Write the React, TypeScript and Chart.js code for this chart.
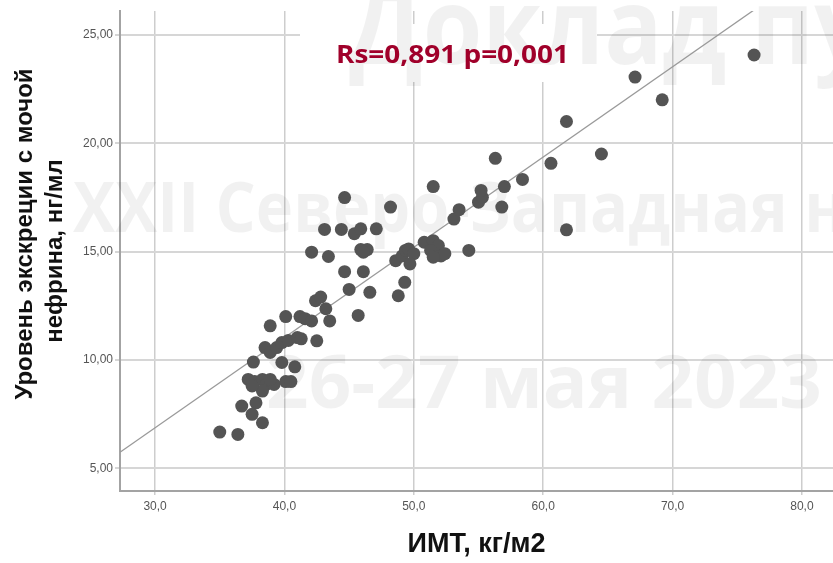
import React, { useEffect, useRef } from 'react';
import { Chart, registerables } from 'chart.js';

Chart.register(...registerables);

// ---- data ----
const bmi = [
  35.0, 36.4, 36.7, 37.8, 37.5, 38.3, 37.6, 37.2, 37.7, 38.3,
  38.6, 38.3, 39.2, 37.5, 38.9, 40.1, 40.5, 39.8, 40.8, 38.5,
  38.9, 39.4, 38.9, 39.8, 40.3, 41.0, 41.3, 42.5, 40.1, 41.2,
  41.6, 42.1, 42.4, 42.8, 43.2, 43.5, 45.7, 45.0, 46.6, 44.65,
  46.1, 48.8, 49.3, 42.1, 43.4, 45.9, 46.4, 46.1, 43.1, 44.4,
  45.4, 45.9, 47.1, 44.65, 48.2, 48.6, 49.1, 49.35, 49.6, 50.0,
  49.7, 50.8, 51.5, 51.9, 51.3, 52.1, 52.4, 51.5, 54.25, 51.5,
  53.1, 53.5, 55.0, 55.3, 55.2, 56.8, 57.0, 56.3, 58.4, 60.6,
  61.8, 61.8, 64.5, 67.1, 69.2, 76.3,
];
const nephrin = [
  6.67, 6.56, 7.87, 8.02, 7.49, 7.1, 9.9, 9.1, 9.0, 9.1,
  8.87, 8.56, 8.87, 8.8, 9.1, 9.0, 9.0, 9.88, 9.68, 10.57,
  10.34, 10.57, 11.57, 10.8, 10.9, 11.03, 10.97, 10.88, 12.0, 12.0,
  11.9, 11.8, 12.73, 12.9, 12.36, 11.8, 12.05, 13.25, 13.12, 14.07,
  14.07, 12.96, 13.58, 14.97, 14.77, 15.09, 15.09, 14.97, 16.02, 16.02,
  15.82, 16.05, 16.05, 17.49, 17.05, 14.58, 14.8, 15.05, 15.12, 14.9,
  14.43, 15.43, 15.5, 15.28, 15.05, 14.8, 14.9, 14.74, 15.05, 18.0,
  16.5, 16.93, 17.28, 17.5, 17.82, 17.05, 18.0, 19.3, 18.33, 19.07,
  16.0, 21.0, 19.5, 23.05, 22.0, 24.07,
];
const xTickValues = [30, 40, 50, 60, 70, 80];
const yTickValues = [5, 10, 15, 20, 25];
const xMin = 27.29;
const xMax = 82.4;
const yMin = 3.95;
const yMax = 26.1;
const fitIntercept = -5.63;
const fitSlope = 0.4165;
const statText = 'Rs=0,891 p=0,001';
const xTitle = 'ИМТ, кг/м2';
const yTitleLines = ['Уровень экскреции с мочой', 'нефрина, нг/мл'];
const watermarkLines = ['Доклад пу', 'XXII Северо-Западная н', '26-27 мая 2023'];

function fitText(ctx: CanvasRenderingContext2D, text: string, x: number, y: number, width: number) {
  const w = ctx.measureText(text).width;
  ctx.save();
  ctx.translate(x, y);
  ctx.scale(width / w, 1);
  ctx.fillText(text, 0, 0);
  ctx.restore();
}

const decorPlugin = {
  id: 'decor',
  beforeDatasetsDraw(chart: any) {
    const ctx = chart.ctx;
    ctx.save();
    // white patch behind the statistic label
    ctx.fillStyle = '#ffffff';
    ctx.fillRect(300, 24, 297, 58);
    // watermark
    ctx.fillStyle = 'rgba(0,0,0,0.055)';
    ctx.textAlign = 'left';
    ctx.textBaseline = 'alphabetic';
    ctx.font = 'bold 105px "Open Sans"';
    ctx.fillText(watermarkLines[0], 349, 64, 520);
    ctx.font = 'bold 69px "Open Sans"';
    ctx.fillText(watermarkLines[1], 73, 232, 773);
    ctx.font = 'bold 74px "Open Sans"';
    fitText(ctx, watermarkLines[2], 266, 408, 556);
    ctx.restore();
  },
  afterDraw(chart: any) {
    const ctx = chart.ctx;
    ctx.save();
    // statistic label
    ctx.fillStyle = '#A0002A';
    ctx.font = 'bold 25px "Open Sans"';
    ctx.textAlign = 'left';
    ctx.textBaseline = 'alphabetic';
    fitText(ctx, statText, 336, 63, 233);
    // y axis title (two lines)
    ctx.fillStyle = '#111111';
    ctx.font = 'bold 24px "Liberation Sans"';
    ctx.textAlign = 'center';
    ctx.save();
    ctx.translate(32, 234);
    ctx.rotate(-Math.PI / 2);
    ctx.fillText(yTitleLines[0], 0, 0);
    ctx.restore();
    ctx.save();
    ctx.translate(62, 251);
    ctx.rotate(-Math.PI / 2);
    ctx.fillText(yTitleLines[1], 0, 0);
    ctx.restore();
    ctx.restore();
  },
};

export default function App() {
  const ref = useRef<HTMLCanvasElement | null>(null);

  useEffect(() => {
    if (!ref.current) return;
    const points = bmi.map((x, i) => ({ x, y: nephrin[i] }));
    const fitLine = [xMin, xMax].map((x) => ({ x, y: fitIntercept + fitSlope * x }));

    const chart = new Chart(ref.current, {
      type: 'scatter',
      data: {
        datasets: [
          {
            label: 'points',
            data: points,
            backgroundColor: '#545454',
            borderWidth: 0,
            pointRadius: 6.5,
            pointHoverRadius: 6.5,
          },
          {
            label: 'fit',
            type: 'line',
            data: fitLine,
            borderColor: '#9a9a9a',
            borderWidth: 1.3,
            pointRadius: 0,
            fill: false,
          } as any,
        ],
      },
      options: {
        responsive: false,
        animation: false,
        layout: { autoPadding: false, padding: { top: 11, left: 0, right: 0, bottom: 0 } },
        plugins: {
          legend: { display: false },
          tooltip: { enabled: false },
        },
        scales: {
          x: {
            type: 'linear',
            min: xMin,
            max: xMax,
            afterBuildTicks: (s: any) => {
              s.ticks = xTickValues.map((v) => ({ value: v }));
            },
            afterFit: (s: any) => {
              s.height = 72;
              s.paddingRight = 0;
              s.paddingLeft = 0;
            },
            grid: { color: '#cdcdcd', lineWidth: 1.5, tickLength: 4 },
            border: { color: '#a3a3a3', width: 2 },
            ticks: {
              callback: (v: any) => Number(v).toFixed(1).replace('.', ','),
              font: { size: 12, family: '"Liberation Sans"' },
              color: '#555555',
              padding: 4,
              maxRotation: 0,
            },
            title: {
              display: true,
              text: xTitle,
              font: { size: 27, weight: 'bold', family: '"Liberation Sans"' },
              color: '#111111',
              padding: { top: 4, bottom: 2 },
            },
          },
          y: {
            type: 'linear',
            min: yMin,
            max: yMax,
            afterBuildTicks: (s: any) => {
              s.ticks = yTickValues.map((v) => ({ value: v }));
            },
            afterFit: (s: any) => {
              s.width = 120;
              s.paddingTop = 0;
              s.paddingBottom = 0;
            },
            grid: { color: '#d6d6d6', lineWidth: 2, tickLength: 5 },
            border: { color: '#a3a3a3', width: 2 },
            ticks: {
              callback: (v: any) => Number(v).toFixed(2).replace('.', ','),
              font: { size: 12, family: '"Liberation Sans"' },
              color: '#555555',
              padding: 2,
            },
            title: { display: false },
          },
        },
      },
      plugins: [decorPlugin],
    } as any);

    return () => chart.destroy();
  }, []);

  return (
    <div style={{ position: 'absolute', left: 0, top: 0, width: 833, height: 563, background: '#ffffff' }}>
      <canvas ref={ref} width={833} height={563} />
    </div>
  );
}
